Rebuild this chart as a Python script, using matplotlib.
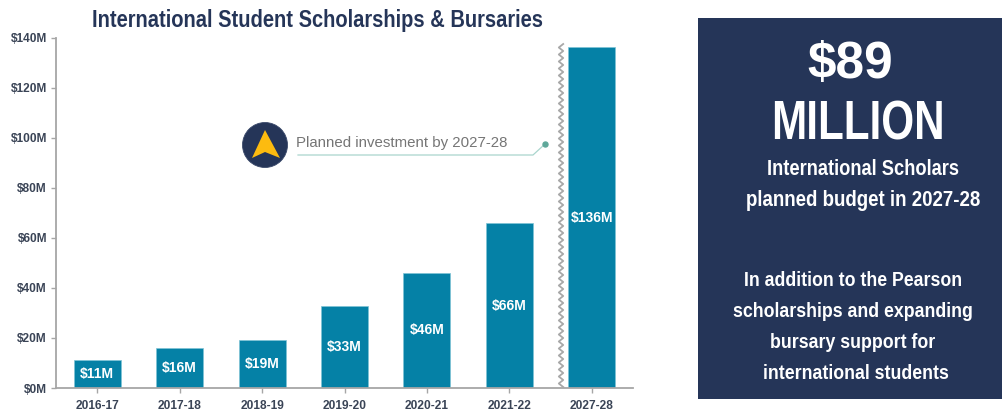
import numpy as np
import matplotlib
matplotlib.use("Agg")
import matplotlib.pyplot as plt
from matplotlib.patches import Circle, Polygon, Rectangle
from matplotlib import font_manager as fm
from fontTools.ttLib import TTFont

years = ["2016-17", "2017-18", "2018-19", "2019-20", "2020-21", "2021-22", "2027-28"]
heights = [11.3, 16.2, 19.3, 32.7, 46.2, 65.8, 136.2]
labels = ["$11M", "$16M", "$19M", "$33M", "$46M", "$66M", "$136M"]
yticks = [0, 20, 40, 60, 80, 100, 120, 140]
title = "International Student Scholarships & Bursaries"
callout = "Planned investment by 2027-28"
panel_big = ["$89", "MILLION"]
panel_lines = ["International Scholars", "planned budget in 2027-28", "In addition to the Pearson",
               "scholarships and expanding", "bursary support for", "international students"]


def condensed(scale, family):
    """Build a horizontally narrowed copy of Liberation Sans Bold so text stays real text."""
    src = fm.findfont(fm.FontProperties(family="Liberation Sans", weight="bold"))
    f = TTFont(src)
    glyf = f["glyf"]
    for name in glyf.keys():
        g = glyf[name]
        if g.isComposite():
            for c in g.components:
                c.x = int(round(c.x * scale))
        elif g.numberOfContours > 0:
            co = g.coordinates
            for i in range(len(co)):
                co[i] = (int(round(co[i][0] * scale)), co[i][1])
            g.recalcBounds(glyf)
        if g.numberOfContours != 0:
            g.recalcBounds(glyf)
    hmtx = f["hmtx"]
    for name in hmtx.metrics:
        a, l = hmtx.metrics[name]
        hmtx.metrics[name] = (int(round(a * scale)), int(round(l * scale)))
    for rec in f["name"].names:
        if rec.nameID in (1, 4, 16):
            rec.string = family
    path = family.replace(" ", "") + ".ttf"
    f.save(path)
    fm.fontManager.addfont(path)
    return family


F75 = condensed(0.75, "Cond Seven")
F85 = condensed(0.85, "Cond Eight")

W, H = 1003, 411
NAVY = "#253558"
TEAL = "#0581A6"
GREY = "#3a4456"

fig = plt.figure(figsize=(W / 100, H / 100), dpi=100, facecolor="white")
ax = fig.add_axes([56 / W, 1 - 388 / H, (633 - 56) / W, 350 / H])
x = np.arange(len(years))
ax.bar(x, heights, width=0.57, color=TEAL, edgecolor="#7fc4d6", linewidth=0.5)
ax.set_xlim(-0.5, 6.5)
ax.set_ylim(0, 140)
ax.set_yticks(yticks, [f"${v}M" for v in yticks])
ax.set_xticks(x, years)
for s in ("top", "right"):
    ax.spines[s].set_visible(False)
for s in ("left", "bottom"):
    ax.spines[s].set_color("#a6a6a6")
    ax.spines[s].set_linewidth(1.3)
ax.tick_params(axis="both", color="#a6a6a6", length=3.5, width=1)
ax.tick_params(axis="x", pad=5)
ax.tick_params(axis="y", pad=3)
for t in ax.get_xticklabels() + ax.get_yticklabels():
    t.set_fontfamily("Liberation Sans")
    t.set_fontweight("bold")
    t.set_fontsize(8.6)
    t.set_color(GREY)
for i, lab in enumerate(labels):
    ax.text(i, heights[i] / 2, lab, ha="center", va="center", color="white",
            family="Liberation Sans", weight="bold", fontsize=10)

ov = fig.add_axes([0, 0, 1, 1], facecolor="none")
ov.set_xlim(0, W)
ov.set_ylim(H, 0)
ov.axis("off")

ov.text(318, 21, title, ha="center", va="center", family=F85, fontsize=17, color=NAVY)

# axis-break zigzag beside the last bar
zy = np.arange(44, 389, 3.5)
zx = 561 + 2.2 * (-1.0) ** np.arange(len(zy))
ov.plot(zx, zy, color="#a8a8a8", lw=1.3, solid_joinstyle="round")

# callout
ov.add_patch(Circle((265, 145), 22.5, fc=NAVY, ec="#3b4a6b", lw=0.6))
ov.add_patch(Polygon([(265, 130), (280, 158), (265, 152), (252, 158)], closed=True, fc="#FDBB0F", ec="none"))
ov.text(296, 143, callout, ha="left", va="center", family="Liberation Sans", fontsize=10.8, color="#757575")
ov.plot([298, 533, 545], [155, 155, 144], color="#a9d5cd", lw=0.9)
ov.plot([545], [144], "o", color="#5fa89a", ms=3.6)

# right panel
ov.add_patch(Rectangle((698, 18), 305, 381, fc=NAVY, ec="none"))
ov.text(850, 64, panel_big[0], ha="center", va="center", family="Liberation Sans", weight="bold", fontsize=37, color="white")
ov.text(857.5, 125, panel_big[1], ha="center", va="center", family=F75, fontsize=40.5, color="white")
ys = [169, 200, 280, 311, 342, 373]
xs = [863, 863, 853, 853, 853, 856]
sizes = [15.5, 15.8, 15, 15, 15, 15]
for xx, yy, s, fs in zip(xs, ys, panel_lines, sizes):
    ov.text(xx, yy, s, ha="center", va="center", family=F85, fontsize=fs, color="white")

fig.savefig("out.png", dpi=100)
